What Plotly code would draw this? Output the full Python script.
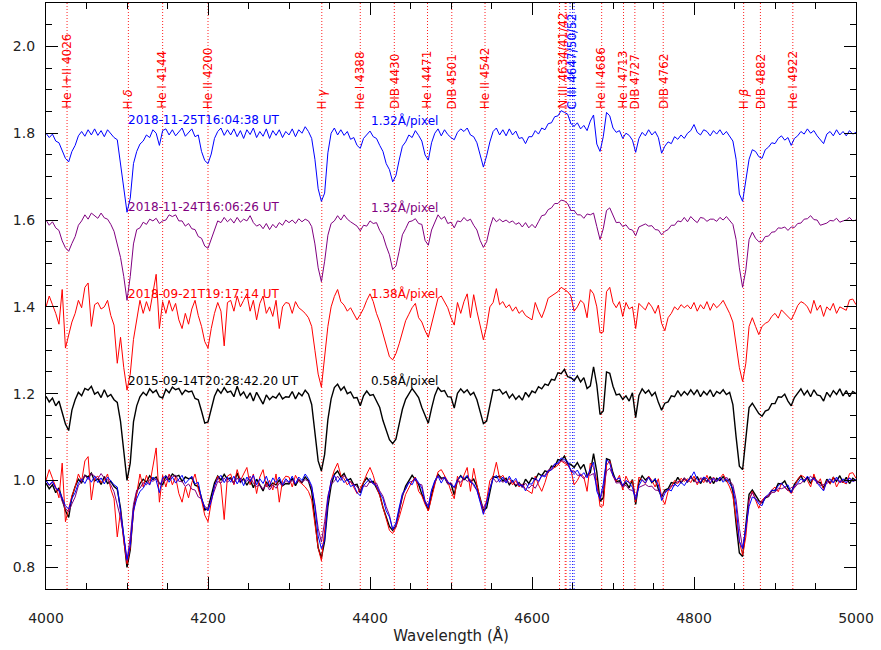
import numpy as np
import plotly.graph_objects as go

# ---------------- data (normalised flux x 1000, sampled every 4 A from 4000 to 5000) --------------
wave_start = 4000
wave_end = 5000
wave_step = 4

flux_blue_20181125 = [
    1000, 990, 998, 982, 978, 958, 942, 934, 958, 972, 994, 1004, 993, 1008, 996, 1010, 995, 1006, 992, 1008, 999, 990, 985, 932, 875,
    818, 850, 930, 958, 975, 982, 996, 990, 1008, 1000, 972, 1006, 1010, 996, 1008, 994, 1004, 1012, 993, 1002, 1010, 992, 996, 958, 937,
    930, 952, 988, 1004, 1012, 995, 1008, 996, 1010, 992, 1006, 988, 1008, 997, 1012, 990, 1004, 993, 1010, 988, 1006, 995, 1008, 990, 1004,
    996, 1010, 992, 1008, 1000, 1015, 1004, 988, 940, 872, 843, 862, 955, 1000, 1012, 996, 1008, 995, 1004, 986, 990, 972, 965, 988, 996,
    1005, 992, 988, 972, 958, 930, 916, 888, 902, 938, 970, 980, 996, 990, 1006, 995, 982, 950, 938, 978, 1000, 1010, 994, 1008, 997,
    990, 985, 1002, 1010, 1004, 1012, 996, 992, 978, 952, 922, 948, 980, 1004, 1012, 996, 1008, 994, 1010, 996, 1005, 988, 990, 976, 992,
    992, 1006, 998, 1012, 1008, 1022, 1024, 1038, 1040, 1052, 1048, 1044, 1022, 1016, 1024, 1010, 1018, 1006, 1028, 1042, 975, 958, 992, 1048, 1040,
    1012, 1002, 1006, 988, 1000, 995, 984, 956, 988, 1002, 994, 1008, 996, 1004, 990, 954, 970, 980, 976, 992, 986, 996, 988, 1000, 1006,
    1020, 1002, 996, 1008, 1004, 994, 1006, 998, 1008, 996, 1004, 994, 982, 940, 860, 843, 893, 940, 962, 958, 946, 942, 962, 968, 978,
    976, 988, 994, 984, 990, 972, 988, 994, 1004, 998, 1010, 1000, 1006, 994, 986, 976, 998, 1004, 994, 1008, 996, 1004, 994, 1006, 998,
    1002,
]

flux_purple_20181124 = [
    1000, 988, 996, 982, 976, 952, 936, 928, 946, 962, 988, 998, 1012, 1002, 1016, 1010, 1004, 1016, 1005, 1002, 990, 974, 944, 914, 870,
    815, 870, 945, 978, 982, 995, 990, 1002, 998, 1004, 992, 998, 1000, 1012, 1008, 1012, 998, 998, 986, 992, 980, 978, 962, 958, 940,
    935, 957, 980, 998, 994, 1006, 996, 1003, 993, 1006, 995, 1002, 998, 1010, 994, 986, 990, 980, 992, 978, 990, 982, 994, 988, 1000,
    994, 1000, 992, 1003, 996, 1002, 998, 985, 945, 890, 858, 905, 965, 992, 998, 1010, 1000, 1012, 1002, 996, 990, 986, 975, 988, 986,
    998, 992, 994, 976, 964, 940, 920, 886, 894, 928, 966, 980, 996, 998, 1003, 992, 990, 953, 942, 977, 996, 1012, 1002, 1008, 992,
    995, 982, 998, 996, 1006, 998, 1002, 988, 977, 953, 937, 950, 983, 1006, 996, 1002, 996, 1000, 994, 998, 990, 994, 984, 994, 982,
    990, 982, 996, 1010, 1012, 1024, 1028, 1038, 1038, 1046, 1044, 1038, 1022, 1022, 1012, 1012, 1004, 1014, 1012, 1016, 985, 955, 980, 1022, 1028,
    1010, 994, 995, 985, 989, 979, 977, 964, 984, 988, 991, 986, 987, 978, 977, 966, 974, 978, 988, 988, 998, 996, 1006, 996, 1008,
    1000, 994, 1006, 1004, 997, 1002, 1002, 997, 1006, 1000, 1008, 998, 990, 955, 890, 845, 885, 955, 972, 958, 950, 950, 962, 963, 972,
    973, 982, 981, 984, 976, 984, 983, 992, 993, 1002, 1003, 1010, 1001, 1000, 988, 990, 993, 999, 998, 1004, 995, 998, 1000, 1006, 998,
    1000,
]

flux_red_20180921 = [
    1000, 1025, 1005, 985, 960, 1040, 905, 935, 965, 985, 1015, 998, 1045, 1055, 955, 1005, 1010, 995, 1000, 1015, 980, 958, 870, 930, 860,
    808, 845, 925, 975, 1015, 985, 1012, 990, 1030, 1075, 950, 1012, 985, 1015, 990, 1008, 970, 950, 985, 960, 995, 1015, 980, 955, 920,
    905, 950, 985, 1010, 990, 910, 1010, 1015, 990, 1025, 1000, 1015, 1030, 990, 1015, 970, 1008, 1025, 985, 1000, 978, 1015, 950, 1000, 1010,
    1008, 985, 1012, 998, 992, 985, 975, 955, 900, 845, 815, 893, 955, 1000, 1024, 1040, 1012, 1004, 990, 998, 985, 970, 982, 996, 1015,
    1030, 1012, 985, 965, 940, 915, 885, 878, 892, 915, 940, 968, 983, 998, 1008, 975, 965, 945, 930, 960, 988, 1020, 1025, 1010, 998,
    975, 958, 1010, 985, 1012, 1030, 975, 1028, 990, 955, 924, 955, 1000, 1010, 1042, 1005, 1012, 998, 1005, 990, 1000, 985, 992, 980, 975,
    970, 1010, 990, 975, 995, 1020, 1025, 1030, 1035, 1045, 1040, 1035, 1025, 990, 1000, 1015, 1008, 975, 1040, 1030, 1000, 940, 942, 1035, 1045,
    1010, 998, 1012, 978, 1010, 995, 1000, 950, 1008, 1000, 993, 1010, 1000, 985, 1004, 962, 945, 975, 985, 1000, 993, 1005, 998, 1004, 995,
    1010, 990, 1005, 995, 1012, 992, 1008, 998, 1005, 1015, 1000, 985, 965, 910, 860, 828, 870, 955, 975, 955, 936, 955, 962, 966, 978,
    985, 974, 993, 985, 978, 970, 985, 1003, 1012, 1008, 1000, 985, 1015, 992, 1004, 978, 1000, 992, 1008, 985, 1000, 996, 992, 1016, 1018,
    1005,
]

flux_black_20150914 = [
    994, 981, 990, 972, 983, 958, 930, 915, 962, 986, 1003, 995, 1012, 1008, 1017, 999, 1004, 991, 1009, 993, 998, 986, 980, 936, 870,
    800, 840, 935, 972, 993, 1003, 996, 1011, 1002, 1008, 993, 990, 1010, 1002, 1015, 1009, 1012, 998, 1008, 1004, 1006, 989, 986, 960, 932,
    935, 965, 994, 1010, 1001, 1014, 1003, 1006, 993, 1017, 996, 1004, 989, 1002, 983, 1003, 988, 976, 997, 986, 994, 990, 1001, 988, 993,
    992, 1005, 988, 1002, 995, 1008, 999, 975, 910, 845, 822, 860, 940, 988, 1014, 1022, 1008, 1016, 1000, 1004, 990, 991, 972, 995, 1006,
    996, 998, 983, 968, 938, 916, 894, 885, 895, 930, 964, 987, 999, 1012, 1002, 991, 968, 948, 932, 966, 996, 1014, 1005, 1007, 993,
    992, 967, 1001, 1011, 1002, 1009, 997, 1003, 986, 957, 931, 937, 974, 1009, 1007, 1010, 999, 1005, 990, 999, 987, 995, 985, 1003, 993,
    1006, 1002, 1016, 1011, 1022, 1019, 1033, 1031, 1048, 1046, 1056, 1039, 1037, 1030, 1041, 1027, 1037, 1012, 1018, 1062, 1020, 952, 960, 1050, 1047,
    1017, 997, 999, 987, 995, 983, 1002, 945, 996, 1011, 1001, 1008, 995, 1003, 980, 962, 978, 981, 995, 993, 1007, 995, 1005, 997, 1009,
    998, 1009, 993, 1005, 997, 1009, 993, 1005, 1000, 1009, 998, 1003, 975, 900, 833, 825, 905, 968, 978, 966, 954, 948, 960, 963, 977,
    977, 993, 992, 999, 983, 972, 991, 1000, 1011, 997, 1007, 993, 1009, 997, 995, 983, 1003, 993, 1007, 998, 1011, 995, 1007, 993, 1005,
    1000,
]

obs_dates = ["2018-11-25T16:04:38 UT", "2018-11-24T16:06:26 UT",
             "2018-09-21T19:17:14 UT", "2015-09-14T20:28:42.20 UT"]
dispersions = ["1.32Å/pixel", "1.32Å/pixel", "1.38Å/pixel", "0.58Å/pixel"]
offsets = [0.8, 0.6, 0.4, 0.2]

line_waves = [4026, 4101.7, 4144, 4200, 4340.5, 4388, 4430, 4471, 4501, 4542,
              4686, 4713, 4727, 4762, 4861.3, 4882, 4922]
line_labels = ["He I+II 4026", "H <i>δ</i>", "He I 4144", "He II 4200", "H <i>γ</i>",
               "He I 4388", "DIB 4430", "He I 4471", "DIB 4501", "He II 4542",
               "He II 4686", "He I 4713", "DIB 4727", "DIB 4762", "H <i>β</i>",
               "DIB 4882", "He I 4922"]
niii_waves = [4634, 4641, 4642]
niii_label = "N III 4634/41/42"
ciii_waves = [4647, 4650, 4652]
ciii_label = "C III 4647/50/52"

# ---------------- styling ----------------
colors = ["#0000FF", "#800080", "#FF0000", "#000000"]
widths = [1, 1, 1, 1.4]
FONT = "DejaVu Sans"
LABEL_Y = 1.853

wavelength = np.arange(wave_start, wave_end + 1, wave_step)
spectra = [np.array(f) / 1000.0 for f in
           (flux_blue_20181125, flux_purple_20181124, flux_red_20180921, flux_black_20150914)]

fig = go.Figure()

# overlaid spectra at the 1.0 level (black, red, purple, blue on top)
for idx in [3, 2, 1, 0]:
    fig.add_trace(go.Scatter(x=wavelength, y=spectra[idx], mode="lines",
                             line=dict(color=colors[idx], width=widths[idx]), showlegend=False,
                             hoverinfo="skip"))

# stacked, offset spectra
for idx in range(4):
    fig.add_trace(go.Scatter(x=wavelength, y=spectra[idx] + offsets[idx], mode="lines",
                             line=dict(color=colors[idx], width=widths[idx]), showlegend=False,
                             hoverinfo="skip"))

shapes = []
annotations = []


def vline(w, col):
    shapes.append(dict(type="line", xref="x", yref="paper", x0=w, x1=w, y0=0, y1=1,
                       line=dict(color=col, width=1, dash="1px,2px"), layer="below"))


def vlabel(w, text, col):
    annotations.append(dict(x=w, y=LABEL_Y, xref="x", yref="y", text=text, textangle=-90,
                            showarrow=False, xanchor="center", yanchor="bottom",
                            font=dict(family=FONT, size=12, color=col), borderpad=0))


for w, lab in zip(line_waves, line_labels):
    vline(w, "#FF2020")
    vlabel(w, lab, "#FF0000")
for w in niii_waves:
    vline(w, "#FF2020")
vlabel(float(np.mean(niii_waves)), niii_label, "#FF0000")
for w in ciii_waves:
    vline(w, "#2020FF")
vlabel(float(np.mean(ciii_waves)), ciii_label, "#0000FF")

for idx in range(4):
    yb = offsets[idx] + 1.0 + 0.03
    annotations.append(dict(x=4100, y=yb, xref="x", yref="y", text=obs_dates[idx],
                            showarrow=False, xanchor="left", yanchor="middle",
                            font=dict(family=FONT, size=12, color=colors[idx]), borderpad=0))
    annotations.append(dict(x=4400, y=yb, xref="x", yref="y", text=dispersions[idx],
                            showarrow=False, xanchor="left", yanchor="middle",
                            font=dict(family=FONT, size=12, color=colors[idx]), borderpad=0))

axis_common = dict(showgrid=False, zeroline=False, showline=True, linecolor="#000000",
                   linewidth=1.2, mirror="allticks", ticks="inside", ticklen=12,
                   tickwidth=1, tickcolor="#000000", automargin=False,
                   tickfont=dict(family=FONT, size=14, color="#222222"))

fig.update_layout(
    width=881, height=650,
    margin=dict(l=46, r=25, t=3, b=61),
    paper_bgcolor="white", plot_bgcolor="white",
    shapes=shapes, annotations=annotations,
    xaxis=dict(range=[4000, 5000], tick0=4000, dtick=200,
               minor=dict(dtick=50, ticklen=6, ticks="inside", tickcolor="#000000"),
               title=dict(text="Wavelength (Å)", standoff=5,
                          font=dict(family=FONT, size=15, color="#222222")),
               ticklabelstandoff=16, **axis_common),
    yaxis=dict(range=[0.75, 2.1], tick0=0.8, dtick=0.2, tickformat=".1f",
               minor=dict(dtick=0.05, ticklen=6, ticks="inside", tickcolor="#000000"),
               ticklabelstandoff=7, **axis_common),
)

fig.write_html("out.html", config={"displayModeBar": False},
               post_script="document.body.style.margin='0';document.body.style.padding='0';")
